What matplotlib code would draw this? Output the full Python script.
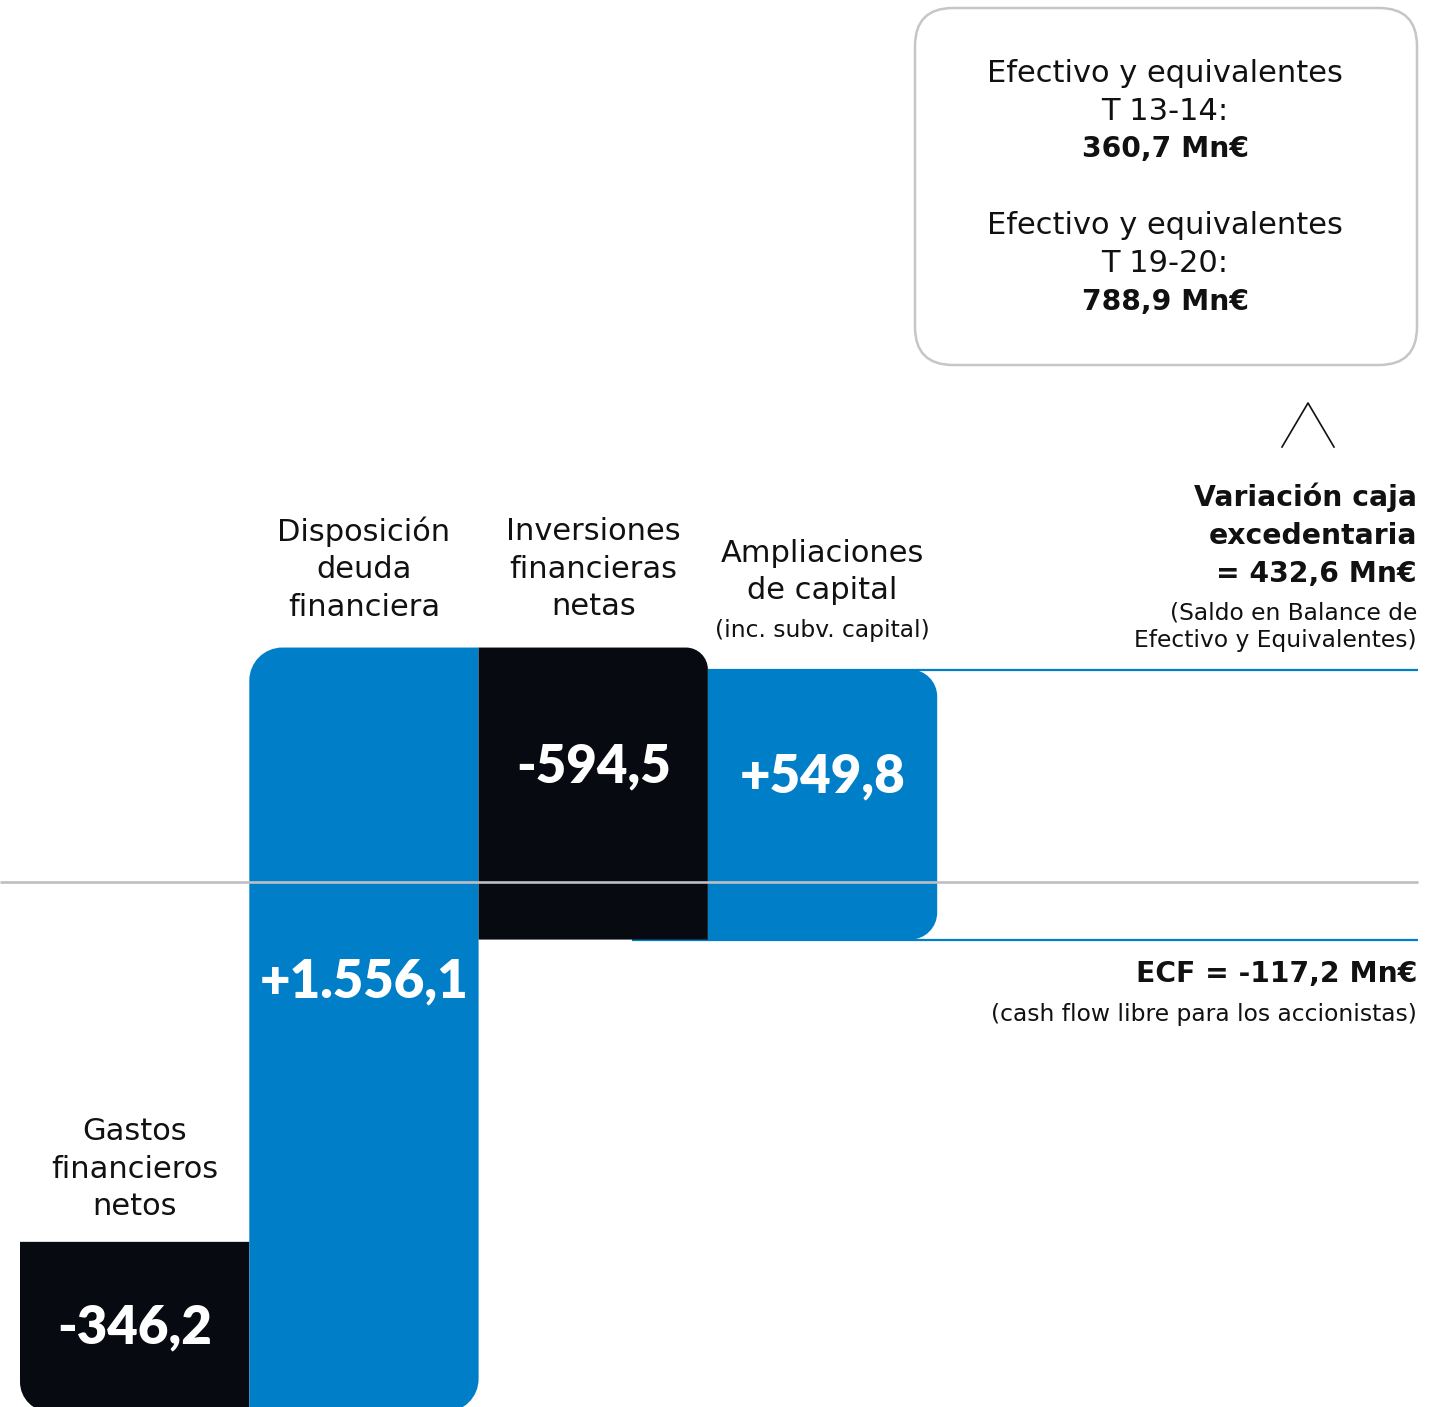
import matplotlib
matplotlib.use("Agg")
import matplotlib.pyplot as plt
import matplotlib.transforms as mtransforms
from matplotlib.path import Path
from matplotlib.patches import PathPatch, FancyBboxPatch

plt.rcParams['font.family'] = ['DejaVu Sans']
NUM_FONT = ['Lato', 'DejaVu Sans']

# Waterfall data (Mn€)
categories = ["Gastos\nfinancieros\nnetos", "Disposición\ndeuda\nfinanciera",
              "Inversiones\nfinancieras\nnetas", "Ampliaciones\nde capital"]
deltas = [-346.2, 1556.1, -594.5, 549.8]
value_labels = ["-346,2", "+1.556,1", "-594,5", "+549,8"]
ecf = -117.2          # level after the first three steps
caja = 432.6          # level after the last step
box_lines = ["Efectivo y equivalentes", "T 13-14:", "360,7 Mn€",
             "Efectivo y equivalentes", "T 19-20:", "788,9 Mn€"]

BLUE = "#007EC8"
BLACK = "#070B11"
TEXT = "#111111"
bar_colors = [BLACK, BLUE, BLACK, BLUE]

REG, BOLD, SMALL = 22, 20.3, 16.8

W, H = 1452, 1407
fig = plt.figure(figsize=(W / 100, H / 100), dpi=100)
ax = fig.add_axes([0, 0, 1, 1])
ax.axis("off")

px_per_unit = 0.4912
zero_px = 882
ax.set_xlim(0, W)
ax.set_ylim(-(H - zero_px) / px_per_unit, zero_px / px_per_unit)

# pixel coordinates measured from the top-left corner
px = mtransforms.Affine2D().scale(1 / W, -1 / H).translate(0, 1) + fig.transFigure


def rounded_bar(x0, x1, y0, y1, r, corners):
    rx, ry = r, r / px_per_unit
    k = 0.5523
    v, c = [], []

    def mv(p):
        v.append(p); c.append(Path.MOVETO)

    def ln(p):
        v.append(p); c.append(Path.LINETO)

    def cv(p1, p2, p3):
        v.extend([p1, p2, p3]); c.extend([Path.CURVE4] * 3)

    bl, br, tr, tl = [n in corners for n in ("bl", "br", "tr", "tl")]
    mv((x0 + rx * bl, y0))
    ln((x1 - rx * br, y0))
    if br:
        cv((x1 - rx + k * rx, y0), (x1, y0 + ry - k * ry), (x1, y0 + ry))
    ln((x1, y1 - ry * tr))
    if tr:
        cv((x1, y1 - ry + k * ry), (x1 - rx + k * rx, y1), (x1 - rx, y1))
    ln((x0 + rx * tl, y1))
    if tl:
        cv((x0 + rx - k * rx, y1), (x0, y1 - ry + k * ry), (x0, y1 - ry))
    ln((x0, y0 + ry * bl))
    if bl:
        cv((x0, y0 + ry - k * ry), (x0 + rx - k * rx, y0), (x0 + rx, y0))
    v.append((x0, y0)); c.append(Path.CLOSEPOLY)
    return Path(v, c)


bar_left = 20
bar_w = 229.3
corner_sets = [("bl",), ("tl", "br"), ("tr",), ("tr", "br")]
radii = [30, 33, 22, 27]

start = ecf - sum(deltas[:3])
level = start
lefts = []
for i, d in enumerate(deltas):
    x0 = bar_left + i * bar_w
    lefts.append(x0)
    lo, hi = sorted([level, level + d])
    ax.add_patch(PathPatch(rounded_bar(x0, x0 + bar_w, lo, hi, radii[i], corner_sets[i]),
                           facecolor=bar_colors[i], edgecolor="none", zorder=3))
    level += d

# reference lines for ECF and the cash variation
ax.plot([632, 1418], [ecf, ecf], color=BLUE, lw=1.6, zorder=2, solid_capstyle="butt")
ax.plot([708, 1418], [caja, caja], color=BLUE, lw=1.6, zorder=2, solid_capstyle="butt")
# zero line drawn over the bars
ax.plot([0, 1418], [0, 0], color="#BEBEC3", lw=1.9, zorder=4, solid_capstyle="butt")

# value labels inside the bars
label_y = [1328, 982, 767, 777]
for i, lab in enumerate(value_labels):
    fig.text(lefts[i] + bar_w / 2, label_y[i], lab, transform=px, ha="center", va="center",
             color="white", fontsize=38, fontweight="heavy", family=NUM_FONT, zorder=5)

# category labels above the bars
cat_y = [1169, 569, 569, 572]
for i, cat in enumerate(categories):
    fig.text(lefts[i] + bar_w / 2, cat_y[i], cat, transform=px, ha="center", va="center",
             fontsize=REG, linespacing=1.37, color=TEXT)
fig.text(lefts[3] + bar_w / 2, 630, "(inc. subv. capital)", transform=px, ha="center",
         va="center", fontsize=SMALL, color=TEXT)

# summary box
fig.patches.append(FancyBboxPatch((915, 8), 502, 357, boxstyle="round,pad=0,rounding_size=38",
                                  transform=px, facecolor="white", edgecolor="#C6C6C9",
                                  lw=1.8, figure=fig))
box_y = [73, 111, 149, 226, 264, 302]
for i, t in enumerate(box_lines):
    bold = "Mn€" in t
    fig.text(1165, box_y[i], t, transform=px, ha="center", va="center",
             fontsize=BOLD if bold else REG, fontweight="bold" if bold else "normal",
             color=TEXT)

# chevron pointing up at the box
fig.lines.append(plt.Line2D([1282, 1308, 1334], [447, 403, 447], transform=px,
                            color=TEXT, lw=1.2, figure=fig))

# right-hand annotations
right_x = 1417
for y, t in zip([497, 536, 574], ["Variación caja", "excedentaria", "= 432,6 Mn€"]):
    fig.text(right_x, y, t, transform=px, ha="right", va="center", fontsize=BOLD,
             fontweight="bold", color=TEXT)
for y, t in zip([613, 641], ["(Saldo en Balance de", "Efectivo y Equivalentes)"]):
    fig.text(right_x, y, t, transform=px, ha="right", va="center", fontsize=SMALL,
             color=TEXT)
fig.text(right_x, 974, "ECF = -117,2 Mn€", transform=px, ha="right", va="center",
         fontsize=BOLD, fontweight="bold", color=TEXT)
fig.text(right_x, 1014, "(cash flow libre para los accionistas)", transform=px, ha="right",
         va="center", fontsize=SMALL, color=TEXT)

fig.savefig("out.png", dpi=100)
